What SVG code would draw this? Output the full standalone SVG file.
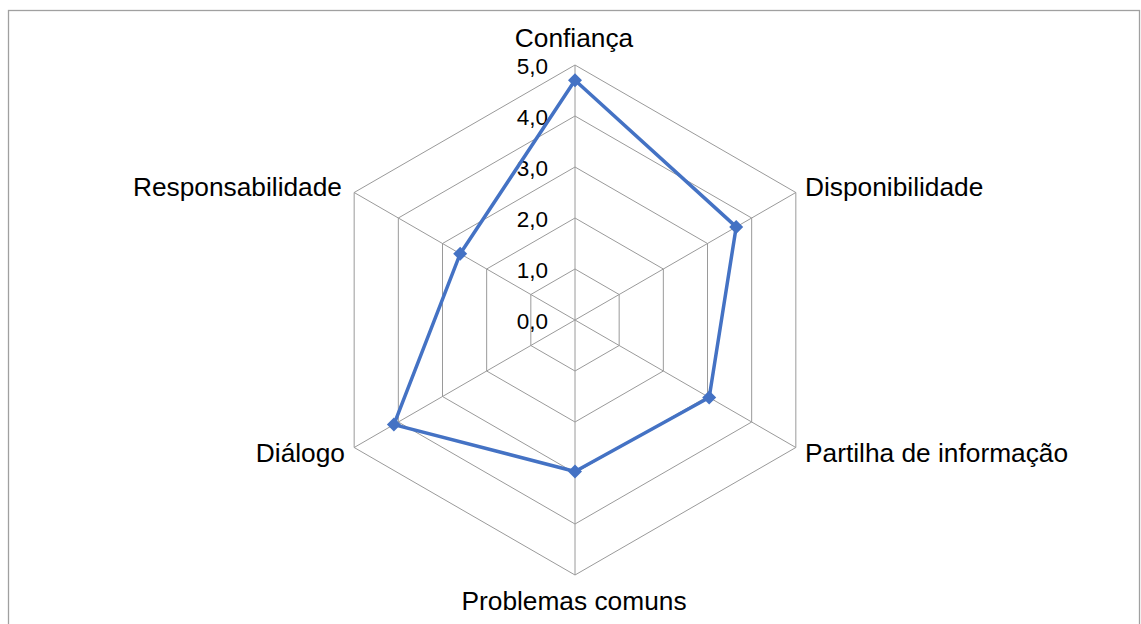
<svg xmlns="http://www.w3.org/2000/svg" width="1141" height="624" viewBox="0 0 1141 624">
<style>
.grid{fill:none;stroke:#9a9a9a;stroke-width:1}
.lbl{font-family:"Liberation Sans",Arial,sans-serif;font-size:26.3px;fill:#000}
.tick{font-family:"Liberation Sans",Arial,sans-serif;font-size:22.5px;fill:#000;text-anchor:end}
.series{fill:none;stroke:#4472C4;stroke-width:3.5;stroke-linejoin:round}
</style>
<defs>
<marker id="dm" markerWidth="16" markerHeight="16" refX="8" refY="8" markerUnits="userSpaceOnUse">
<path d="M8,1 L15,8 L8,15 L1,8 Z" fill="#4472C4"/>
</marker>
</defs>
<rect x="8.5" y="10.5" width="1131" height="700" fill="#fff" stroke="#a0a0a0" stroke-width="1.3"/>
<g id="grid">
<polygon class="grid" points="575,269 619.17,294.5 619.17,345.5 575,371 530.83,345.5 530.83,294.5"/>
<polygon class="grid" points="575,218 663.33,269 663.33,371 575,422 486.67,371 486.67,269"/>
<polygon class="grid" points="575,167 707.5,243.5 707.5,396.5 575,473 442.5,396.5 442.5,243.5"/>
<polygon class="grid" points="575,116 751.67,218 751.67,422 575,524 398.33,422 398.33,218"/>
<polygon class="grid" points="575,65 795.84,192.5 795.84,447.5 575,575 354.16,447.5 354.16,192.5"/>
<path class="grid" d="M575,320 L575,65 M575,320 L795.84,192.5 M575,320 L795.84,447.5 M575,320 L575,575 M575,320 L354.16,447.5 M575,320 L354.16,192.5"/>
</g>
<g id="ticks">
<text class="tick" x="548" y="328.5">0,0</text>
<text class="tick" x="548" y="277.5">1,0</text>
<text class="tick" x="548" y="226.5">2,0</text>
<text class="tick" x="548" y="175.5">3,0</text>
<text class="tick" x="548" y="124.5">4,0</text>
<text class="tick" x="548" y="73.5">5,0</text>
</g>
<g id="axis-confianca"><text class="lbl" x="574" y="47" text-anchor="middle">Confiança</text></g>
<g id="axis-disponibilidade"><text class="lbl" x="805" y="196">Disponibilidade</text></g>
<g id="axis-partilha"><text class="lbl" x="805" y="462">Partilha de informação</text></g>
<g id="axis-problemas"><text class="lbl" x="574" y="610" text-anchor="middle">Problemas comuns</text></g>
<g id="axis-dialogo"><text class="lbl" x="345" y="462" text-anchor="end">Diálogo</text></g>
<g id="axis-responsabilidade"><text class="lbl" x="342" y="196" text-anchor="end">Responsabilidade</text></g>
<g id="series">
<polygon class="series" points="575,80.3 736.2,226.9 709.2,397.5 575,471.5 393.9,424.6 460.2,253.7" marker-start="url(#dm)" marker-mid="url(#dm)"/>
</g>
</svg>
